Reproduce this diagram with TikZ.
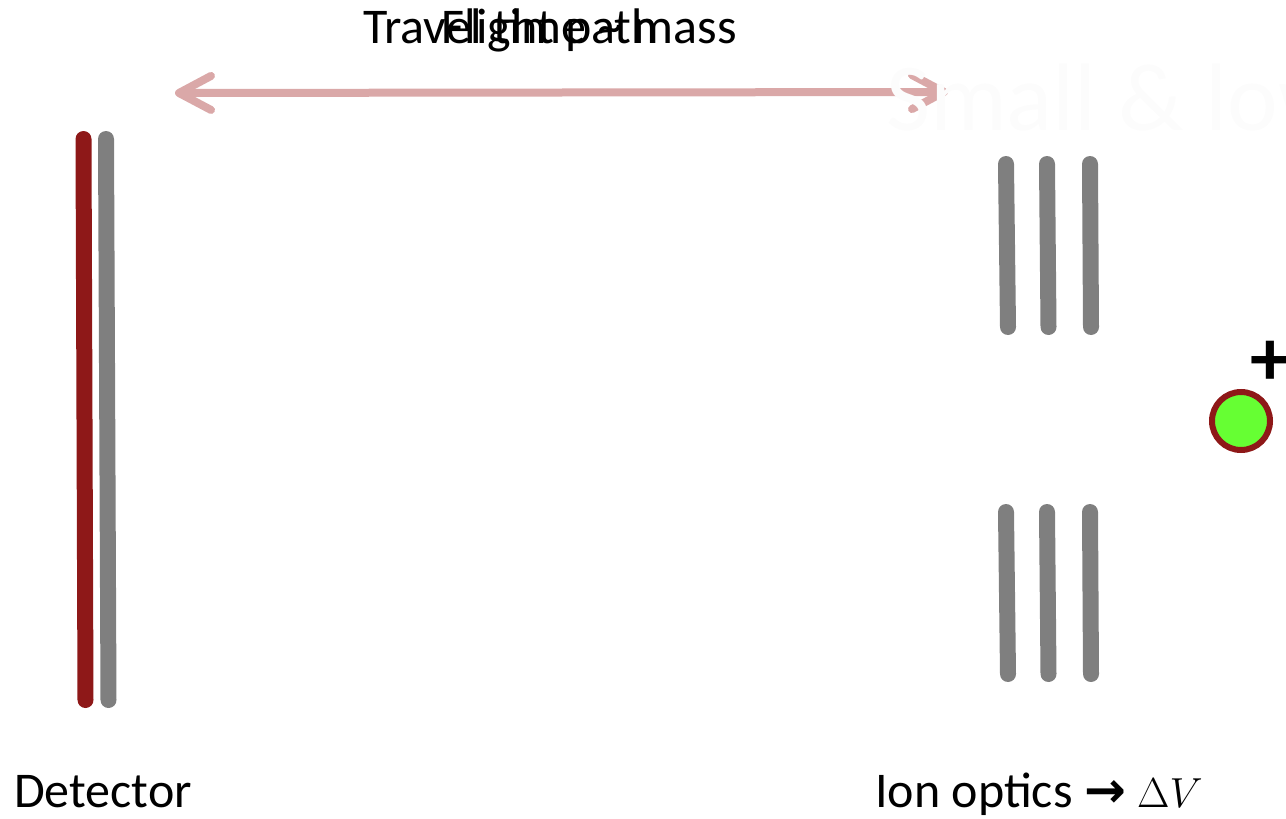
\documentclass[tikz,border=0pt]{standalone}
\usepackage{fix-cm}
\usepackage{fontspec}
\setmainfont{Carlito}
\newfontfamily\djv{DejaVu Sans}
\usetikzlibrary{arrows.meta}
\definecolor{detred}{HTML}{8E1818}
\definecolor{plategray}{HTML}{7F7F7F}
\definecolor{arrowpink}{HTML}{DAA8A8}
\definecolor{iongreen}{HTML}{66FF33}
\definecolor{ghost}{HTML}{FCFCFC}
\tikzset{
  plate/.style={line width=16pt, line cap=round, plategray},
  detplate/.style={line width=16pt, line cap=round, detred},
  label/.style={inner sep=0pt, font=\fontsize{50}{54}\selectfont, anchor=base west},
  toplabel/.style={inner sep=0pt, font=\fontsize{50}{54}\selectfont, anchor=base},
  flightarrow/.style={line width=8pt, arrowpink, line cap=round,
    {Straight Barb[length=32pt,width=34pt,round]}-{Straight Barb[length=32pt,width=34pt,round]}}
}
\begin{document}
\begin{tikzpicture}[x=1pt,y=-1pt]
\useasboundingbox (0,0) rectangle (1286,819);
\clip (0,0) rectangle (1286,819);
% flight arrow
\coordinate (al) at (175,93);
\coordinate (ar) at (948,92);
\draw[flightarrow] (al) -- (ar);
% faint text over the arrow head
\node[inner sep=0pt, anchor=base west, text=ghost, font=\fontsize{96}{106}\selectfont] (ghosttext) at (886,130) {Small \& low};
% detector
\coordinate (r1) at (83.5,139); \coordinate (r2) at (85.5,700);
\coordinate (g1) at (106,139); \coordinate (g2) at (108.5,700);
\draw[detplate] (r1) -- (r2);
\draw[plate] (g1) -- (g2);
% ion optics
\coordinate (u1a) at (1006,164); \coordinate (u1b) at (1008,327);
\coordinate (u2a) at (1047,164); \coordinate (u2b) at (1048.5,327);
\coordinate (u3a) at (1090,164); \coordinate (u3b) at (1091,327);
\coordinate (l1a) at (1006,512); \coordinate (l1b) at (1008,674);
\coordinate (l2a) at (1047,512); \coordinate (l2b) at (1048.5,674);
\coordinate (l3a) at (1090,512); \coordinate (l3b) at (1091,674);
\foreach \p in {u1,u2,u3,l1,l2,l3} \draw[plate] (\p a) -- (\p b);
% ion
\node[circle, minimum size=58pt, inner sep=0pt, fill=iongreen, draw=detred, line width=6pt] (ion) at (1241,421) {};
\node[inner sep=0pt, font=\bfseries\fontsize{80}{80}\selectfont] (plus) at (1270,363) {+};
% labels
\node[toplabel] (travel) at (550,43) {Travel time \textasciitilde{} mass};
\node[toplabel] (flight) at (550,43) {Flight path};
\node[label] (det) at (14,807) {Detector};
\node[label] (optics) at (875,807) {Ion optics {\djv\bfseries →} {\fontsize{42}{46}\selectfont$\Delta V$}};
\end{tikzpicture}
\end{document}
